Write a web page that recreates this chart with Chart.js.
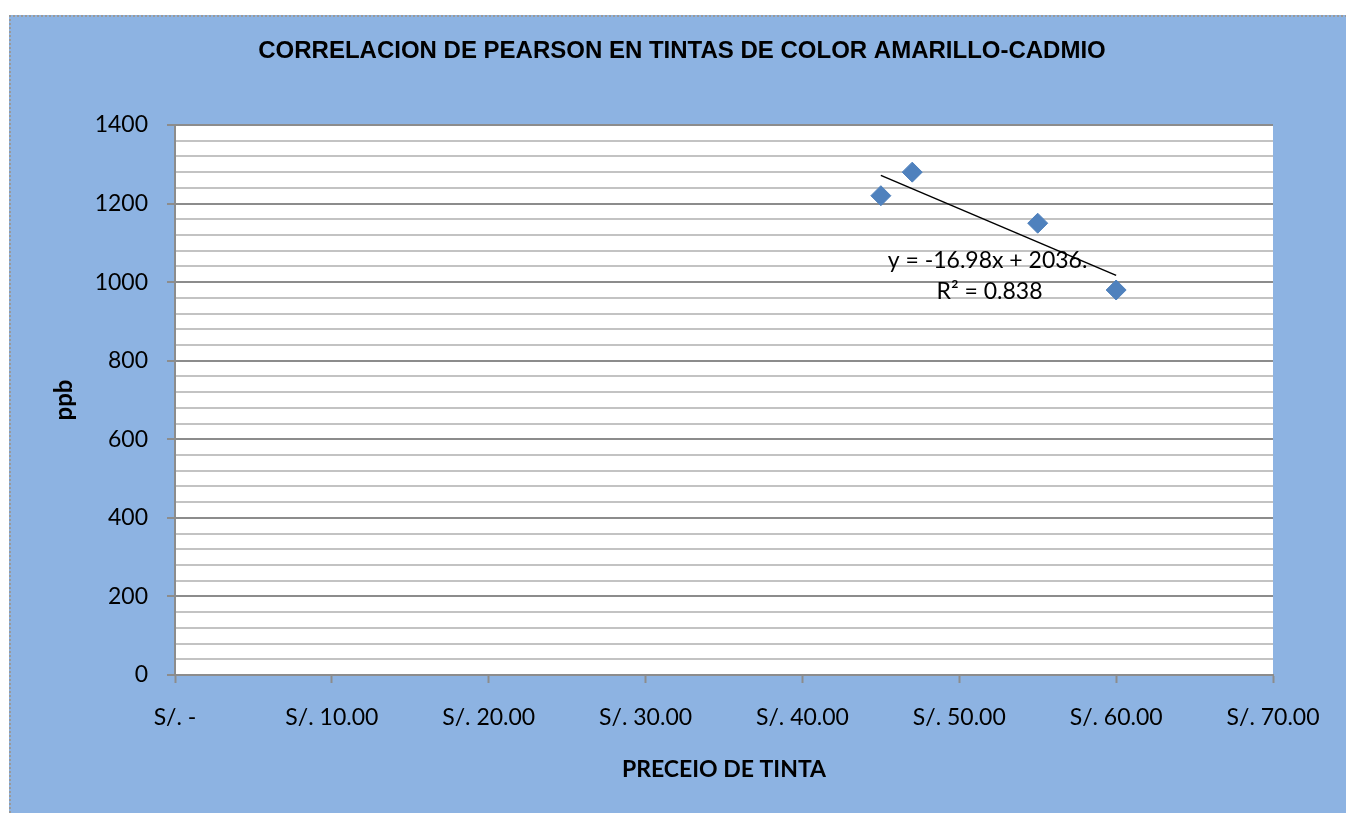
<!DOCTYPE html>
<html>
<head>
<meta charset="utf-8">
<script src="https://cdn.jsdelivr.net/npm/chart.js@4.4.1/dist/chart.umd.min.js"></script>
<style>
  html, body { margin: 0; padding: 0; background: #ffffff; overflow: hidden; }
  #frame {
    position: absolute; left: 9px; top: 15px;
    width: 1360px; height: 820px;
    background: #8db3e2;
    border-top: 2px dotted #9a9a9a;
    border-left: 2px dotted #9a9a9a;
  }
  #chart { display: block; }
</style>
</head>
<body>
<div id="frame"><canvas id="chart" width="1335" height="796"></canvas></div>
<script>
// Precio de tinta (soles) y concentración de cadmio (ppb)
const precios = [45, 47, 55, 60];
const ppb = [1220, 1280, 1150, 980];

// Línea de tendencia lineal reportada
const pendiente = -16.98;
const intercepto = 2036;
const r2 = 0.838;
const tendenciaX = [45, 60];

// Etiquetas de los ejes
const xTickLabels = ['S/. -', 'S/. 10.00', 'S/. 20.00', 'S/. 30.00', 'S/. 40.00', 'S/. 50.00', 'S/. 60.00', 'S/. 70.00'];
const yTickLabels = ['0', '200', '400', '600', '800', '1000', '1200', '1400'];

const titulo = 'CORRELACION DE PEARSON EN TINTAS DE COLOR AMARILLO-CADMIO';
const tituloX = 'PRECEIO DE TINTA';
const tituloY = 'ppb';
const ecuacion = 'y = -16.98x + 2036.';
const textoR2 = 'R² = ' + r2.toFixed(3);

const puntos = precios.map((p, i) => ({ x: p, y: ppb[i] }));
const tendencia = tendenciaX.map(x => ({ x: x, y: intercepto + pendiente * x }));

const FUENTE = 'Lato, "Open Sans", sans-serif';

const fondoArea = {
  id: 'fondoArea',
  beforeDraw(chart) {
    const { ctx, chartArea: a } = chart;
    ctx.save();
    ctx.fillStyle = '#ffffff';
    ctx.fillRect(a.left, a.top, a.right - a.left, a.bottom - a.top);
    ctx.restore();
  }
};

const textos = {
  id: 'textos',
  afterDraw(chart) {
    const { ctx } = chart;
    const sx = chart.scales.x, sy = chart.scales.y;
    ctx.save();
    ctx.fillStyle = '#000000';
    ctx.textAlign = 'center';
    ctx.textBaseline = 'middle';
    ctx.font = 'bold 24px "Liberation Sans", Arial, sans-serif';
    ctx.fillText(titulo, 671, 34);
    ctx.font = '23px ' + FUENTE;
    const cx = sx.getPixelForValue(51.8);
    const cy = sy.getPixelForValue(1056);
    ctx.fillText(ecuacion, cx, cy);
    ctx.fillText(textoR2, cx + 2, cy + 31);
    ctx.restore();
  }
};

new Chart(document.getElementById('chart'), {
  type: 'scatter',
  data: {
    datasets: [
      {
        label: 'ppb',
        data: puntos,
        pointStyle: 'rectRot',
        pointRadius: 10,
        pointBackgroundColor: '#4f81bd',
        pointBorderColor: '#4f81bd',
        pointBorderWidth: 1,
        showLine: false
      },
      {
        type: 'line',
        label: 'Lineal (ppb)',
        data: tendencia,
        borderColor: '#000000',
        borderWidth: 1.5,
        pointRadius: 0,
        fill: false
      }
    ]
  },
  options: {
    responsive: false,
    animation: false,
    layout: { padding: { top: 108, right: 73, bottom: 0, left: 0 } },
    plugins: {
      legend: { display: false },
      tooltip: { enabled: false },
      title: { display: false }
    },
    scales: {
      x: {
        type: 'linear',
        min: 0, max: 70,
        afterFit(scale) { scale.height = 138; },
        ticks: {
          stepSize: 10,
          autoSkip: false,
          maxRotation: 0,
          padding: 21,
          color: '#000000',
          font: { family: FUENTE, size: 23 },
          callback: v => xTickLabels[Math.round(v / 10)]
        },
        grid: {
          drawOnChartArea: false,
          drawTicks: true,
          tickLength: 8,
          tickColor: '#8c8c8c',
          tickWidth: 2
        },
        border: { display: true, color: '#8c8c8c', width: 2 },
        title: {
          display: true,
          text: tituloX,
          color: '#000000',
          font: { family: FUENTE, size: 23, weight: 'bold' },
          padding: { top: 0, bottom: 30 }
        }
      },
      y: {
        type: 'linear',
        min: 0, max: 1400,
        afterFit(scale) { scale.width = 164; },
        ticks: {
          stepSize: 40,
          autoSkip: false,
          padding: 19,
          color: '#000000',
          font: { family: FUENTE, size: 23 },
          callback: v => (v % 200 === 0 ? yTickLabels[v / 200] : '')
        },
        grid: {
          drawTicks: true,
          tickLength: 8,
          lineWidth: 2,
          tickWidth: 2,
          color: c => (c.tick && c.tick.value % 200 === 0 ? '#8c8c8c' : '#c3c3c3'),
          tickColor: c => (c.tick && c.tick.value % 200 === 0 ? '#8c8c8c' : 'rgba(0,0,0,0)')
        },
        border: { display: true, color: '#8c8c8c', width: 2 },
        title: {
          display: true,
          text: tituloY,
          color: '#000000',
          font: { family: FUENTE, size: 24, weight: 'bold' },
          padding: { top: 39, bottom: 0 }
        }
      }
    }
  },
  plugins: [fondoArea, textos]
});
</script>
</body>
</html>
